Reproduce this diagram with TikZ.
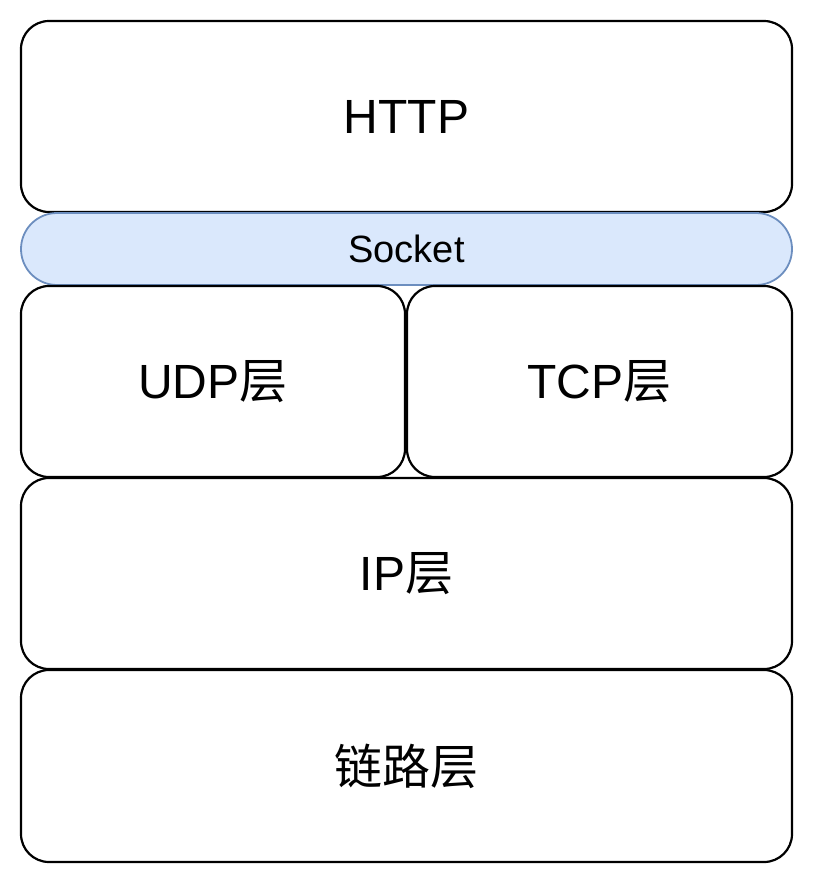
\documentclass[tikz,border=0pt]{standalone}
\usepackage{fontspec}
\setmainfont{Liberation Sans}
\newfontfamily\cjk{Noto Sans CJK SC}
\usetikzlibrary{positioning}
\definecolor{sockfill}{HTML}{DAE8FC}
\definecolor{sockline}{HTML}{6C8EBF}
\tikzset{
    layer/.style={draw, line width=1.1pt, rounded corners=14pt, fill=white,
        font=\fontsize{24}{28}\selectfont, inner sep=0pt},
    sockbar/.style={draw=sockline, line width=0.9pt, fill=sockfill, rounded corners=18pt,
        font=\fontsize{19}{23}\selectfont, inner sep=0pt}
}
\begin{document}
\begin{tikzpicture}[x=0.5pt, y=-0.5pt]
    \useasboundingbox (0,0) rectangle (817,889);
    \node[layer, minimum width=385.5pt, minimum height=95.5pt] (http) at (406.5,116.5) {HTTP};
    \node[sockbar, minimum width=385.5pt, minimum height=36pt] (socket) at (406.5,249) {Socket};
    \node[layer, minimum width=192pt, minimum height=95.5pt] (udp) at (213,381.5) {UDP{\cjk 层}};
    \node[layer, minimum width=192.5pt, minimum height=95.5pt] (tcp) at (599.5,381.5) {TCP{\cjk 层}};
    \node[layer, minimum width=385.5pt, minimum height=95.5pt] (ip) at (406.5,573.5) {IP{\cjk 层}};
    \node[layer, minimum width=385.5pt, minimum height=96pt] (link) at (406.5,766) {\cjk 链路层};
\end{tikzpicture}
\end{document}
